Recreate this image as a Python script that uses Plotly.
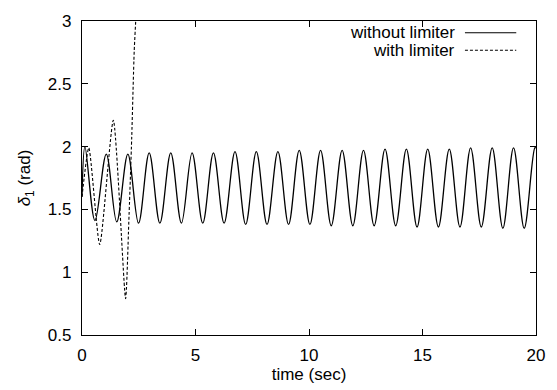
import plotly.graph_objects as go

# Without limiter: read extrema of the oscillation
t_without = [0.0, 0.13, 0.57, 1.07, 1.53, 2.02, 2.49, 2.96, 3.43, 3.91, 4.38, 4.85, 5.32,
             5.79, 6.26, 6.74, 7.21, 7.68, 8.15, 8.63, 9.10, 9.57, 10.04, 10.51, 10.98,
             11.46, 11.93, 12.40, 12.87, 13.35, 13.82, 14.29, 14.76, 15.23, 15.70, 16.18,
             16.65, 17.12, 17.59, 18.07, 18.54, 19.01, 19.48, 19.95, 20.0]
d_without = [1.60, 2.00, 1.41, 1.94, 1.40, 1.94, 1.39, 1.95, 1.39, 1.95, 1.39, 1.95, 1.39,
             1.95, 1.39, 1.96, 1.38, 1.96, 1.38, 1.96, 1.38, 1.97, 1.38, 1.97, 1.37,
             1.97, 1.37, 1.97, 1.37, 1.98, 1.37, 1.98, 1.36, 1.98, 1.36, 1.98, 1.36,
             1.99, 1.36, 1.99, 1.35, 1.99, 1.35, 1.99, 1.99]

# With limiter: diverging oscillation
t_with = [0.0, 0.30, 0.78, 1.38, 1.92, 2.06, 2.19, 2.30, 2.38, 2.45]
d_with = [1.60, 1.99, 1.22, 2.21, 0.79, 1.39, 2.07, 2.76, 3.05, 3.30]

x_ticks = [0, 5, 10, 15, 20]
y_ticks = [0.5, 1, 1.5, 2, 2.5, 3]

FONT = "Liberation Sans, Arial, sans-serif"

fig = go.Figure()
fig.add_trace(go.Scatter(x=t_without, y=d_without, mode="lines", name="without limiter",
                         line=dict(color="black", width=1.3, shape="spline", smoothing=1.0)))
fig.add_trace(go.Scatter(x=t_with, y=d_with, mode="lines", name="with limiter",
                         line=dict(color="black", width=1.1, dash="3px,2px",
                                   shape="spline", smoothing=0.6)))

axis_common = dict(showgrid=False, zeroline=False, showline=True, linecolor="black",
                   linewidth=1.3, mirror="ticks", ticks="inside", ticklen=6,
                   tickcolor="black", tickwidth=1,
                   tickfont=dict(family=FONT, size=17, color="black"))

fig.update_xaxes(range=[0, 20], tickvals=x_ticks, ticktext=[str(v) for v in x_ticks],
                 ticklabelstandoff=4,
                 title=dict(text="time (sec)", font=dict(family=FONT, size=17, color="black"),
                            standoff=2),
                 **axis_common)
fig.update_yaxes(range=[0.5, 3], tickvals=y_ticks, ticktext=["0.5", "1", "1.5", "2", "2.5", "3"],
                 ticklabelstandoff=6,
                 title=dict(text="<i>δ</i><sub>1</sub> (rad)",
                            font=dict(family=FONT, size=17, color="black"), standoff=12),
                 **axis_common)

# gnuplot-style legend: text right-aligned, sample line to the right
legend_rows = [("without limiter", "solid", 25), ("with limiter", "3px,2px", 43)]
for label, dash, ypx in legend_rows:
    yp = 1 - (ypx - 13) / 322
    fig.add_annotation(x=(462 - 82) / 460, y=yp, xref="paper", yref="paper",
                       text=label, showarrow=False, xanchor="right", yanchor="middle",
                       font=dict(family=FONT, size=17, color="black"))
    fig.add_shape(type="line", xref="paper", yref="paper",
                  x0=(470 - 82) / 460, x1=(522 - 82) / 460, y0=yp, y1=yp,
                  line=dict(color="black", width=1.1, dash=dash))

fig.update_layout(width=557, height=390, margin=dict(l=82, r=15, t=13, b=55),
                  paper_bgcolor="white", plot_bgcolor="white", showlegend=False)

fig.write_html("out.html")
